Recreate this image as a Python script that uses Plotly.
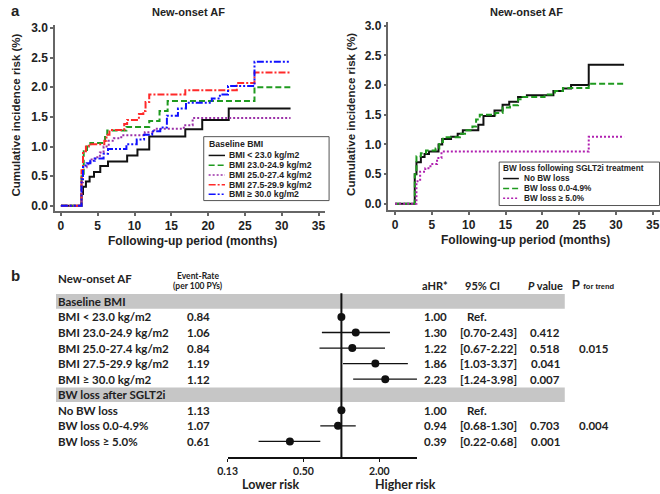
import math
import plotly.graph_objects as go

W, H = 660, 494

# ---------------- data ----------------
bmi_names = ["BMI < 23.0 kg/m2", "BMI 23.0-24.9 kg/m2", "BMI 25.0-27.4 kg/m2",
             "BMI 27.5-29.9 kg/m2", "BMI \u2265 30.0 kg/m2"]
bmi_t = [
    [0, 2.8, 3.0, 3.4, 3.9, 4.5, 5.35, 6.4, 9.0, 10.4, 12.0, 16.9, 19.2, 22.8, 31.2],
    [0, 2.8, 3.1, 3.55, 4.0, 6.0, 6.3, 8.9, 12.0, 13.4, 14.5, 26.3, 31.2],
    [0, 2.8, 3.0, 3.5, 4.0, 4.6, 5.3, 5.8, 6.5, 7.2, 8.2, 11.4, 12.7, 16.7, 17.9, 31.2],
    [0, 2.8, 3.0, 3.4, 3.8, 5.9, 6.2, 6.6, 8.6, 9.0, 10.6, 11.2, 11.5, 12.0, 16.9, 23.9, 26.3, 31.2],
    [0, 2.8, 3.0, 3.5, 4.0, 4.6, 5.8, 6.4, 8.9, 10.3, 11.3, 12.4, 13.5, 14.4, 15.9, 17.0, 20.5, 21.6,
     22.7, 26.3, 31.2],
]
bmi_y = [
    [0, 0.20, 0.32, 0.41, 0.49, 0.57, 0.67, 0.75, 0.85, 0.95, 1.17, 1.29, 1.45, 1.64, 1.64],
    [0, 0.50, 0.92, 1.00, 1.06, 1.16, 1.27, 1.33, 1.43, 1.60, 1.77, 2.00, 2.00],
    [0, 0.40, 0.65, 0.70, 0.78, 0.82, 0.90, 1.00, 1.10, 1.14, 1.19, 1.24, 1.30, 1.36, 1.48, 1.48],
    [0, 0.60, 0.92, 1.00, 1.04, 1.10, 1.20, 1.28, 1.38, 1.45, 1.55, 1.60, 1.75, 1.88, 1.95, 2.07,
     2.25, 2.25],
    [0, 0.45, 0.68, 0.72, 0.76, 0.80, 0.88, 0.96, 1.04, 1.12, 1.20, 1.26, 1.32, 1.52, 1.64, 1.74,
     1.81, 1.88, 2.02, 2.43, 2.43],
]

bw_names = ["No BW loss", "BW loss 0.0-4.9%", "BW loss \u2265 5.0%"]
bw_t = [
    [0, 2.67, 2.9, 3.5, 4.0, 4.6, 5.9, 6.4, 7.6, 8.5, 9.2, 11.3, 12.0, 13.5, 14.6, 15.5, 16.7,
     17.9, 21.5, 22.8, 23.9, 26.3, 31.1],
    [0, 2.67, 2.9, 3.5, 4.2, 5.5, 6.0, 6.5, 8.8, 9.5, 10.5, 11.0, 11.5, 13.6, 14.6, 15.6, 16.7,
     17.3, 20.3, 21.7, 22.8, 26.3, 31.1],
    [0, 2.9, 3.4, 4.1, 4.8, 5.7, 6.3, 26.3, 31.1],
]
bw_y = [
    [0, 0.50, 0.70, 0.79, 0.84, 0.88, 1.00, 1.09, 1.13, 1.18, 1.24, 1.33, 1.48, 1.57, 1.67, 1.72,
     1.80, 1.83, 1.90, 1.94, 2.00, 2.34, 2.34],
    [0, 0.50, 0.80, 0.85, 0.90, 0.93, 1.04, 1.12, 1.18, 1.24, 1.30, 1.42, 1.50, 1.53, 1.62, 1.66,
     1.76, 1.80, 1.84, 1.90, 1.95, 2.02, 2.02],
    [0, 0.38, 0.54, 0.60, 0.67, 0.77, 0.88, 1.13, 1.13],
]

km_xticks = [0, 5, 10, 15, 20, 25, 30, 35]
km_yticks = [0, 0.5, 1.0, 1.5, 2.0, 2.5, 3.0]

# forest plot
fp_groups = ["Baseline BMI", "BW loss after SGLT2i"]
fp_labels = ["BMI < 23.0 kg/m2", "BMI 23.0-24.9 kg/m2", "BMI 25.0-27.4 kg/m2",
             "BMI 27.5-29.9 kg/m2", "BMI \u2265 30.0 kg/m2",
             "No BW loss", "BW loss 0.0-4.9%", "BW loss \u2265 5.0%"]
fp_group_of = [0, 0, 0, 0, 0, 1, 1, 1]
fp_rate = ["0.84", "1.06", "0.84", "1.19", "1.12", "1.13", "1.07", "0.61"]
fp_hr = [1.00, 1.30, 1.22, 1.86, 2.23, 1.00, 0.94, 0.39]
fp_lo = [None, 0.70, 0.67, 1.03, 1.24, None, 0.68, 0.22]
fp_hi = [None, 2.43, 2.22, 3.37, 3.98, None, 1.30, 0.68]
fp_p = ["", "0.412", "0.518", "0.041", "0.007", "", "0.703", "0.001"]
fp_trend = ["0.015", "0.004"]
fp_ticks = [0.125, 0.5, 2.0]
fp_ticktext = ["0.13", "0.50", "2.00"]

# ---------------- styles ----------------
bmi_colors = ["#111111", "#1f9a1f", "#9b30a8", "#ff2a2a", "#1010ff"]
bmi_dash = ["solid", "6px,3px", "2px,2px", "7px,2px,2px,2px", "7px,2px,2px,2px,2px,2px"]
bw_colors = ["#111111", "#1f9a1f", "#b020b0"]
bw_dash = ["solid", "6px,3px", "2px,2px"]

AR = "Liberation Sans"
CAL = "Lato"
AXC = "#666666"
TXC = "#222222"
FS = 11.5  # forest text size


def X(p):
    return p / W


def Y(p):
    return 1 - p / H


fig = go.Figure()

for t, y, c, d in zip(bmi_t, bmi_y, bmi_colors, bmi_dash):
    fig.add_trace(go.Scatter(x=t, y=y, mode="lines", line=dict(color=c, dash=d, width=2, shape="hv"),
                             xaxis="x", yaxis="y", showlegend=False, hoverinfo="skip"))
for t, y, c, d in zip(bw_t, bw_y, bw_colors, bw_dash):
    fig.add_trace(go.Scatter(x=t, y=y, mode="lines", line=dict(color=c, dash=d, width=2, shape="hv"),
                             xaxis="x2", yaxis="y2", showlegend=False, hoverinfo="skip"))

# forest positions
fp_pos = []
gi = {}
pos = 0
last_g = -1
for g in fp_group_of:
    if g != last_g:
        gi[g] = pos
        pos += 1
        last_g = g
    fp_pos.append(pos)
    pos += 1

ci_x, ci_y = [], []
for lo, hi, p in zip(fp_lo, fp_hi, fp_pos):
    if lo is not None:
        ci_x += [lo, hi, None]
        ci_y += [p, p, None]

# bands
shapes = []
for g, name in enumerate(fp_groups):
    shapes.append(dict(type="rect", xref="paper", yref="y3", x0=X(46.7), x1=X(563.3),
                       y0=gi[g] - 0.47, y1=gi[g] + 0.47, fillcolor="#c6c6c6",
                       line=dict(width=0), layer="below"))
shapes.append(dict(type="line", xref="x3", yref="y3", x0=1, x1=1, y0=-0.52, y1=10.03,
                   line=dict(color="#111111", width=2)))

fig.add_trace(go.Scatter(x=ci_x, y=ci_y, mode="lines", line=dict(color="#111111", width=1.3),
                         xaxis="x3", yaxis="y3", showlegend=False, hoverinfo="skip"))
fig.add_trace(go.Scatter(x=fp_hr, y=fp_pos, mode="markers",
                         marker=dict(color="#111111", size=8),
                         xaxis="x3", yaxis="y3", showlegend=False, hoverinfo="skip"))

ann = []


def txt(x, y, s, size, fam=AR, xa="center", ya="middle", yref="paper", color=TXC, angle=0):
    ann.append(dict(x=x, y=y, xref="paper", yref=yref, text=s, showarrow=False,
                    xanchor=xa, yanchor=ya, font=dict(family=fam, size=size, color=color),
                    textangle=angle, borderpad=0, borderwidth=0))


# KM titles / labels
txt(X(6), Y(7), "<b>a</b>", 15)
txt(X(181.7), Y(8), "<b>New-onset AF</b>", 11)
txt(X(524.3), Y(8), "<b>New-onset AF</b>", 11)
txt(X(185), Y(240), "<b>Following-up period (months)</b>", 12)
txt(X(523.3), Y(239), "<b>Following-up period (months)</b>", 12)
txt(X(6), Y(112), "<b>Cumulative incidence risk (%)</b>", 11.5, angle=-90)
txt(X(345.5), Y(112), "<b>Cumulative incidence risk (%)</b>", 11.5, angle=-90)

# legends (boxes + samples)
shapes.append(dict(type="rect", xref="paper", yref="paper", x0=X(196.7), x1=X(324), y0=Y(134.3),
                   y1=Y(199), line=dict(color="#555555", width=1), fillcolor="white"))
txt(X(201.7), Y(141.5), "<b>Baseline BMI</b>", 8.7, xa="left")
for k, (n, c, d) in enumerate(zip(bmi_names, bmi_colors, bmi_dash)):
    yy = 153.3 + k * 9.85
    shapes.append(dict(type="line", xref="paper", yref="paper", x0=X(201.7), x1=X(218.3),
                       y0=Y(yy), y1=Y(yy), line=dict(color=c, dash=d, width=1.5)))
    txt(X(222.7), Y(yy), "<b>%s</b>" % n, 8.7, xa="left")

shapes.append(dict(type="rect", xref="paper", yref="paper", x0=X(496.7), x1=X(659.5), y0=Y(160),
                   y1=Y(204), line=dict(color="#555555", width=1), fillcolor="white"))
txt(X(500.7), Y(166.7), "<b>BW loss following SGLT2i treatment</b>", 8.2, xa="left")
for k, (n, c, d) in enumerate(zip(bw_names, bw_colors, bw_dash)):
    yy = 176.7 + k * 10
    shapes.append(dict(type="line", xref="paper", yref="paper", x0=X(500.7), x1=X(516.7),
                       y0=Y(yy), y1=Y(yy), line=dict(color=c, dash=d, width=1.5)))
    txt(X(521.7), Y(yy), "<b>%s</b>" % n, 8.2, xa="left")

# forest text
txt(X(6), Y(275), "<b>b</b>", 15)
txt(X(48.5), Y(277.7), "<b>New-onset AF</b>", FS, fam=CAL, xa="left")
txt(X(190.5), Y(275), "<b>Event-Rate</b>", 8.5, fam=CAL)
txt(X(190.5), Y(285.5), "<b>(per 100 PYs)</b>", 8.5, fam=CAL)
txt(X(431.7), Y(285), "<b>aHR*</b>", 11, fam=CAL)
txt(X(479.7), Y(285), "<b>95% CI</b>", 11, fam=CAL)
txt(X(543.5), Y(285), "<b><i>P</i> value</b>", 11, fam=CAL)
txt(X(570.5), Y(284), "<b>P</b> <span style='font-size:7.5px'><b>for trend</b></span>", 12,
    fam=AR, xa="left")
for g, name in enumerate(fp_groups):
    txt(X(48.5), gi[g], "<b>%s</b>" % name, FS, fam=CAL, xa="left", yref="y3")
for lab, rate, hr, lo, hi, p, yy in zip(fp_labels, fp_rate, fp_hr, fp_lo, fp_hi, fp_p, fp_pos):
    txt(X(48.5), yy, "<b>%s</b>" % lab, FS, fam=CAL, xa="left", yref="y3")
    txt(X(191.5), yy, "<b>%s</b>" % rate, FS, fam=CAL, yref="y3")
    txt(X(431.7), yy, "<b>%.2f</b>" % hr, FS, fam=CAL, yref="y3")
    if lo is None:
        txt(X(464), yy, "<b>Ref.</b>", FS, fam=CAL, xa="left", yref="y3")
    else:
        txt(X(486), yy, "<b>[%.2f-%.2f]</b>" % (lo, hi), FS, fam=CAL, yref="y3")
    if p:
        txt(X(543.5), yy, "<b>%s</b>" % p, FS, fam=CAL, yref="y3")
for g, tr in enumerate(fp_trend):
    rows = [fp_pos[i] for i in range(len(fp_pos)) if fp_group_of[i] == g]
    txt(X(593.3), (rows[0] + rows[-1]) / 2.0, "<b>%s</b>" % tr, FS, fam=CAL, yref="y3")
txt(X(265), Y(486.5), "<b>Lower risk</b>", 12.5, fam=CAL)
txt(X(401.7), Y(486.5), "<b>Higher risk</b>", 12.5, fam=CAL)

km_axis = dict(showline=True, linecolor=AXC, linewidth=1.5, ticks="outside", ticklen=3,
               tickcolor=AXC, tickwidth=1.5, showgrid=False, zeroline=False,
               tickfont=dict(family=AR, size=12, color=TXC, weight="bold"))

fig.update_layout(
    width=W, height=H, margin=dict(l=0, r=0, t=0, b=0),
    paper_bgcolor="white", plot_bgcolor="white", showlegend=False,
    xaxis=dict(domain=[X(45.7), X(320)], range=[-0.8, 35.9], tickvals=km_xticks, anchor="y",
               **km_axis),
    yaxis=dict(domain=[Y(209.3), Y(21.7)], range=[-0.083, 3.043], tickvals=km_yticks,
               tickformat=".1f", anchor="x", **km_axis),
    xaxis2=dict(domain=[X(384.3), X(660)], range=[-0.9, 35.98], tickvals=km_xticks, anchor="y2",
                **km_axis),
    yaxis2=dict(domain=[Y(208.3), Y(18.3)], range=[-0.1, 3.06], tickvals=km_yticks,
                tickformat=".1f", anchor="x2", **km_axis),
    xaxis3=dict(domain=[X(221), X(413.5)], type="log", range=[math.log10(0.125), math.log10(4)],
                tickvals=fp_ticks, ticktext=fp_ticktext, anchor="y3", showline=True,
                linecolor="#111111", linewidth=1.5, ticks="outside", ticklen=3, tickcolor="#111111",
                showgrid=False, zeroline=False,
                tickfont=dict(family=CAL, size=10.5, color=TXC, weight="bold")),
    yaxis3=dict(domain=[Y(459), Y(270)], range=[10.03, -1.97], visible=False, anchor="x3"),
    shapes=shapes, annotations=ann,
)

fig.write_html("out.html", config={"displayModeBar": False},
               post_script="document.body.style.margin='0px';")
